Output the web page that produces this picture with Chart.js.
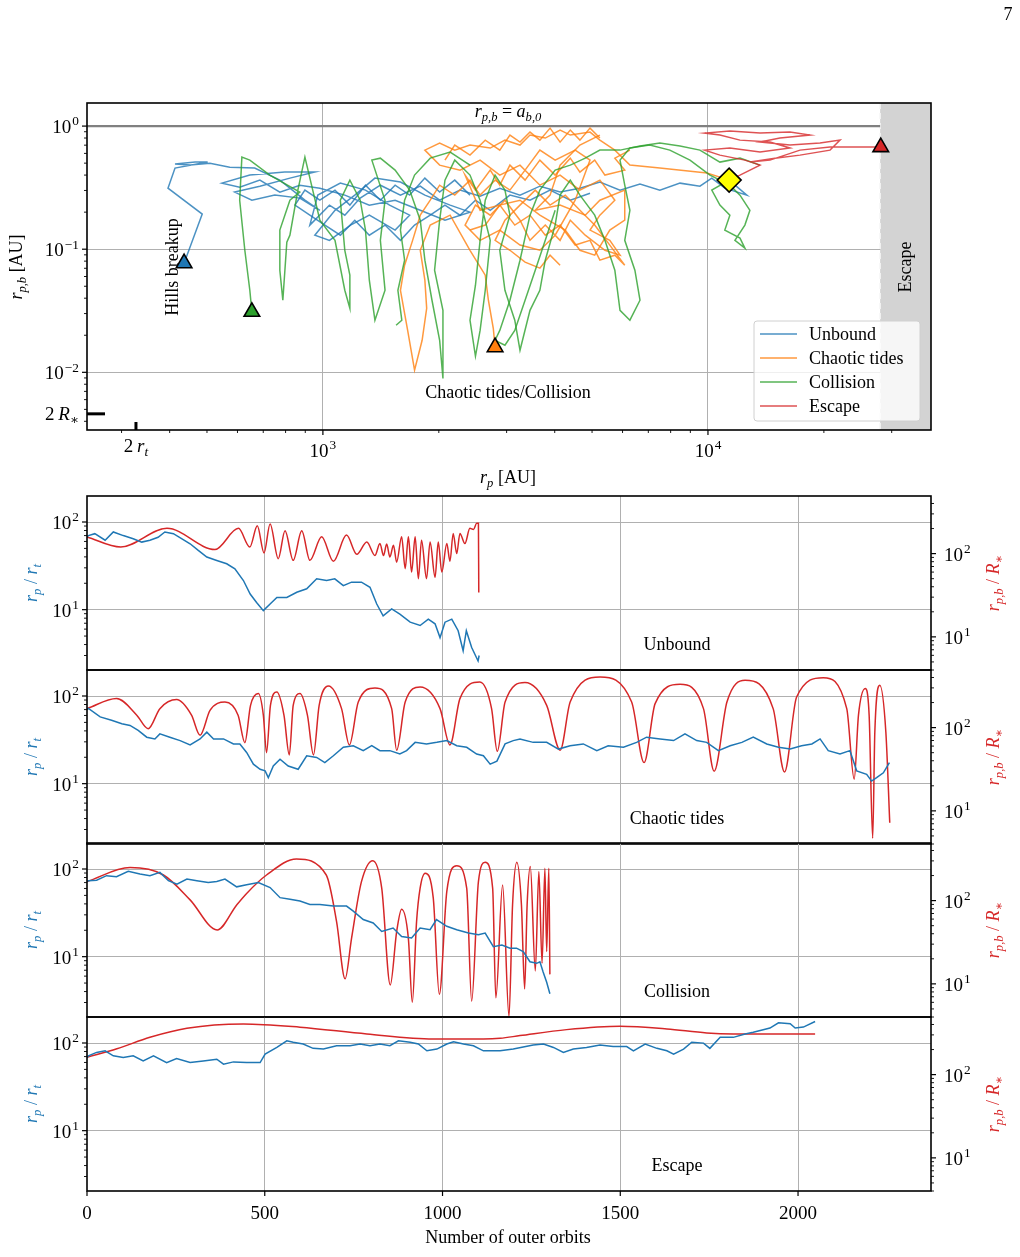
<!DOCTYPE html>
<html>
<head>
<meta charset="utf-8">
<script src="https://cdn.jsdelivr.net/npm/chart.js@4.4.0/dist/chart.umd.min.js"></script>
<style>
  body { margin: 0; background: #fff; }
  #wrap { position: relative; width: 1020px; height: 1257px; }
  canvas { position: absolute; left: 0; }
</style>
</head>
<body>
<div id="wrap">
  <canvas id="top" width="1020" height="495" style="top:0;width:1020px;height:495px"></canvas>
  <canvas id="p0" width="1020" height="190" style="top:488px;width:1020px;height:190px"></canvas>
  <canvas id="p1" width="1020" height="190" style="top:662px;width:1020px;height:190px"></canvas>
  <canvas id="p2" width="1020" height="190" style="top:835px;width:1020px;height:190px"></canvas>
  <canvas id="p3" width="1020" height="248" style="top:1009px;width:1020px;height:248px"></canvas>
</div>
<script>
// ---- top panel: r_p [AU] vs r_p,b [AU] tracks ----
const unboundX = [11350,12620,11060,10230,9530,8460,7500,6660,5910,5240,4650,4130,3660,3250,2880,2560,2270,2010,1790,1590,1410,1250,1140,1040,925,970,1110,1290,1490,1680,1540,1320,1180,1040,953,1075,1210,1365,1590,1840,2140,2410,2075,1790,1540,1320,1140,982,871,773,686,608,547,646,796,953,821,686,590,654,750,871,982,898,773,665,573,509,452,413,466,502,413,396,486,436];
const unboundY = [0.364,0.275,0.313,0.378,0.325,0.344,0.302,0.338,0.302,0.351,0.313,0.291,0.325,0.275,0.313,0.27,0.302,0.25,0.325,0.275,0.331,0.26,0.189,0.228,0.157,0.275,0.344,0.302,0.228,0.189,0.143,0.189,0.157,0.118,0.13,0.207,0.275,0.378,0.351,0.275,0.228,0.2,0.172,0.207,0.25,0.228,0.275,0.313,0.331,0.291,0.364,0.319,0.344,0.4,0.423,0.423,0.378,0.325,0.291,0.25,0.275,0.26,0.207,0.25,0.364,0.456,0.464,0.5,0.482,0.491,0.51,0.51,0.456,0.313,0.193,0.077];
const unboundX2 = [2410,2200,2010,1840,1680,1540,1410,1290,1175,1075,982,898,846,925,1012,1110,1210,1320,1450,1590,1730,1900,2075,2270,2490,2720,3060,3450,3890,4390,4940];
const unboundY2 = [0.275,0.364,0.291,0.378,0.275,0.331,0.25,0.331,0.228,0.302,0.25,0.302,0.228,0.189,0.157,0.13,0.172,0.13,0.157,0.118,0.157,0.189,0.228,0.189,0.25,0.207,0.275,0.25,0.302,0.25,0.285];

const tidesX = [11350,9940,7500,6270,5730,5240,4940,4390,4130,3780,3450,3250,2970,2720,2410,2200,2010,1840,2010,2270,2560,2880,3250,3660,4130,4650,5240,5730,5240,4940,5560,5910,5400,4800,4390,4130,3780,3450,3250,2970,2720,2490,2340,2560,2880,3250,3660,4010,4520,4940,4520,4010,3660,3350,3060,2800,2560,2410,2200,2010,1900,1790,1710,1630,1590,1660,1730,1810,1860,1840,1790,1900,2140,2410,2640,2690,2770,2800];
const tidesY = [0.364,0.415,0.456,0.482,0.638,0.769,0.894,0.845,0.928,0.799,0.845,0.701,0.769,0.663,0.701,0.638,0.728,0.638,0.482,0.439,0.529,0.4,0.482,0.331,0.4,0.302,0.364,0.25,0.189,0.143,0.118,0.0894,0.098,0.13,0.172,0.118,0.157,0.118,0.172,0.25,0.189,0.228,0.157,0.118,0.143,0.108,0.098,0.13,0.25,0.529,0.638,0.529,0.638,0.439,0.302,0.364,0.275,0.364,0.275,0.331,0.25,0.189,0.118,0.0741,0.0464,0.0219,0.0104,0.0182,0.0331,0.056,0.098,0.157,0.189,0.098,0.0615,0.0385,0.0228,0.016];
const tidesX2 = [5240,4650,4130,3890,3560,4130,4800,5240,6080,6080,5560,5080,4650,4260,3660,3250,2880,2640,2410];
const tidesY2 = [0.845,0.701,0.482,0.275,0.207,0.228,0.189,0.25,0.302,0.172,0.143,0.0894,0.098,0.143,0.189,0.25,0.228,0.157,0.143];
const tidesX3 = [6270,5730,6080,5400,5080,4650,4390,4010,3660,3350,3060,2880,2720,2490,2340,2560,2880,3150,3450,3780,4130,4520,4940,5240,5730,6080,5560,5080,4650,4260,3890,3560,3250,2970,2800,3060,3350,3660,3890,4130];
const tidesY3 = [0.638,0.549,0.439,0.4,0.529,0.423,0.549,0.4,0.529,0.364,0.482,0.331,0.439,0.302,0.4,0.207,0.228,0.157,0.189,0.13,0.157,0.108,0.118,0.0814,0.0894,0.0741,0.108,0.157,0.207,0.275,0.228,0.302,0.228,0.172,0.118,0.098,0.0784,0.0701,0.0894,0.0741];
const tidesX4 = [5240,4940,4650,4390,4130,3890,3660,3450,3250,3060,2880,2640,2410,2200,2075];
const tidesY4 = [0.799,0.963,0.769,0.928,0.741,0.963,0.769,0.894,0.741,0.845,0.638,0.769,0.581,0.701,0.529];

const collX = [11350,10230,10740,11400,11060,12110,12470,11750,12470,12850,12110,11400,10120,8980,7960,7060,6270,5910,6080,6270,6080,6460,6660,6270,5910,5730,5400,5080,4650,4390,4130,4010,3780,3660,3450,3250,3150,2970,2880,3060,2970,2800,2640,2560,2490,2410,2490,2560,2640,2720,2560,2410,2200,2075,2010,1950,2050,2050,2010,1920,1840,1790,1680,1540,1410,1340,1450,1410,1450,1365,1320,1290,1250,1175,1110,1140,1175,1175,1140,1075,982,898,861,821,806,787,773,773,821,871,728,646,616,608,627,646,654];
const collY = [0.364,0.302,0.228,0.189,0.143,0.123,0.102,0.118,0.157,0.207,0.275,0.331,0.4,0.529,0.638,0.701,0.663,0.529,0.331,0.207,0.118,0.0675,0.0385,0.0265,0.0319,0.0675,0.118,0.189,0.275,0.364,0.275,0.157,0.0814,0.0464,0.0319,0.0151,0.0265,0.0464,0.098,0.189,0.302,0.4,0.25,0.118,0.051,0.0265,0.0135,0.0219,0.0464,0.118,0.25,0.4,0.529,0.364,0.172,0.0675,0.0319,0.0089,0.0182,0.0385,0.0814,0.172,0.302,0.439,0.549,0.529,0.25,0.118,0.0464,0.0265,0.056,0.143,0.25,0.364,0.25,0.098,0.0615,0.0331,0.0464,0.118,0.172,0.56,0.302,0.13,0.114,0.0385,0.0675,0.143,0.25,0.291,0.4,0.529,0.56,0.25,0.098,0.0464,0.031];
const collX2 = [13650,12110,10740,9530,8460,7500,6660,5910,5240,4800,4390,4010,3660,3450,3250,3060,2880,2800,2970,3150,3350,3560,3780,4010];
const collY2 = [0.482,0.549,0.51,0.638,0.688,0.728,0.688,0.638,0.638,0.549,0.482,0.439,0.302,0.189,0.0814,0.0385,0.0219,0.0182,0.0166,0.0219,0.0385,0.0675,0.118,0.207];
const collX3 = [2410,2140,1900,1730,1630,1590,1630,1566,1603,1549];
const collY3 = [0.482,0.615,0.549,0.4,0.25,0.143,0.0814,0.0464,0.0265,0.0241];

const escX = [11350,12110,13650,12470,10740,9810,11400,13650,16330,14490,12110,10740,9810,11400,13650,16330,18400,15380,13650,16330,19540,22030,20750,17340,14930,12850,14490,17340,20750,24830,28100];
const escY = [0.364,0.4,0.482,0.529,0.581,0.638,0.663,0.615,0.663,0.741,0.769,0.845,0.877,0.911,0.877,0.894,0.845,0.799,0.741,0.701,0.728,0.769,0.638,0.581,0.549,0.51,0.529,0.638,0.675,0.675,0.675];

const endX = [436, 2800, 654, 28100];          // end markers: unbound, tides, collision, escape
const endY = [0.077, 0.016, 0.031, 0.675];
const startX = [11350];
const startY = [0.364];

const legendNames = ['Unbound', 'Chaotic tides', 'Collision', 'Escape'];
const escapeLimit = [28000];     // AU, start of shaded escape region
const binarySep = [1];           // r_p,b = a_b,0
const twoRt = [327];             // AU
const twoRstar = [0.0046];       // AU

// ---- lower panels: vs number of outer orbits ----
const unbOrbits = [0,4,22,51,74,102,130,154,177,200,219,243,266,290,313,337,365,393,416,440,459,477,496,515,534,562,590,618,646,674,697,721,744,772,796,815,833,857,880,909,937,960,979,993,1007,1026,1044,1058,1067,1082,1100,1103];
const unbRp = [68,70,73.6,62,77,70,64.5,59,62,67,77,73.5,64.5,56.5,47.4,39.8,36.4,33.4,29.2,21.5,15.1,12.1,9.75,11.6,13.8,13.8,15.8,17.3,22.5,21.5,22.5,18.8,20.6,20.6,18,11.6,8.5,10.2,8.9,7.2,6.6,7.8,6.9,4.8,7.2,7.8,5.75,3.4,5.75,3.7,2.6,3.0];
const unbOrbitsB = [0,95,225,360,426,458,479,498,515,538,557,580,604,627,660,693,730,759,787,810,824,834,843,852,862,871,885,895,904,913,923,932,941,955,965,979,988,998,1012,1021,1030,1040,1049,1063,1077,1087,1096,1101,1102];
const unbRpb = [159,120,201,112,201,120,216,102,227,87,188,83,188,83,159,81,167,98,138,95,132,95,130,91,126,79,159,66,159,60,159,50,145,50,138,52,138,60,132,81,175,100,175,132,201,195,231,231,34];

const chtOrbits = [0,4,37,69,98,121,144,168,191,205,233,262,290,318,337,356,384,412,430,449,468,487,501,510,524,543,566,594,618,646,669,693,721,749,777,801,824,852,880,899,923,955,984,1012,1040,1068,1096,1115,1134,1153,1176,1199,1218,1255,1293,1326,1359,1396,1434,1466,1509,1546,1574,1612,1650,1682,1715,1743,1776,1809,1842,1874,1912,1945,1978,2010,2039,2062,2085,2118,2146,2165,2193,2207,2221,2240,2257];
const chtRp = [70,72,57.7,52.8,48.3,46.2,40.5,33.9,32.4,37,33.9,31,27.7,32.4,38.7,32.4,32.4,28.4,28.4,22.7,16.7,14.6,14,11.7,15.9,19,15.9,14.6,20.8,19.9,17.4,20.8,26,27.1,23.8,27.1,23.8,23.8,21.8,23.8,29.6,28.4,29.6,31,27.1,26,21.8,20.8,16.7,18.1,28.4,31,32.4,29.6,29.6,24.8,27.1,28.4,23.8,27.1,26,29.6,33.9,32.4,31,37,31,29.6,23.8,27.1,29.6,33.9,28.4,26,24.8,27.1,28.4,32.4,23.8,21.8,23.8,14,12.8,10.7,11.7,13.3,17.4];
const chtOrbitsB = [0,83,140,172,205,252,294,318,346,388,425,444,460,482,496,505,516,534,554,569,580,599,620,637,653,679,716,738,763,810,857,871,895,937,993,1021,1049,1105,1138,1154,1176,1232,1293,1331,1359,1443,1532,1567,1598,1668,1734,1764,1800,1851,1930,1962,1996,2071,2137,2158,2170,2189,2200,2210,2216,2230,2247,2258];
const chtRpb = [169,223,141,97,169,217,141,81,161,203,141,66,185,256,141,50,185,267,141,47,185,256,141,47,185,316,169,62,203,299,169,53.5,203,307,169,62,223,352,169,51.9,203,347,185,53.5,203,405,203,38,194,331,169,29.9,203,370,169,29.3,233,398,169,24,141,294,141,4.7,88.6,322,88.6,7.2];

const colOrbits = [0,4,27,55,83,116,149,177,205,229,253,281,309,341,365,388,421,449,482,515,543,571,599,627,655,693,730,749,777,805,829,861,885,913,937,965,983,1012,1040,1073,1101,1120,1143,1167,1190,1208,1227,1246,1265,1274,1283,1293,1302];
const colRp = [72,73.5,74.6,84,81.7,94,87.5,84,91.6,73.5,67.1,76.7,73.5,70.2,72,76.7,62.6,66.1,70.2,61.5,47.1,45.1,43.1,39.4,39.4,37.8,37.8,33.1,26.5,24.2,19.4,21.2,17,16.3,21.2,20.3,26.5,22.2,20.3,18.6,17.8,18.6,13,13.6,12.5,12.5,11.4,8.75,8.4,8.75,6.7,5.1,3.77];
const colOrbitsB = [0,121,215,290,366,421,449,505,589,673,702,726,744,772,804,829,853,871,885,904,915,927,937,951,974,991,1012,1040,1068,1082,1101,1120,1141,1150,1169,1187,1197,1209,1222,1231,1238,1247,1261,1271,1280,1288,1293,1299,1302];
const colRpb = [169,249,203,102,44.4,88.6,122,203,316,203,56,11.5,35,169,302,141,9.7,42.5,79,35,6,56,141,213,107,7.5,128,263,141,6.2,169,288,141,6.8,154,4.05,88.6,288,88.6,8.7,88.6,256,14.3,223,17.7,244,24.4,244,13];

const escOrbits = [0,4,27,51,74,102,130,158,187,224,252,290,327,365,384,412,449,487,501,534,562,580,608,636,665,702,740,768,796,824,852,876,909,932,956,984,1012,1031,1059,1087,1115,1143,1162,1199,1255,1284,1312,1340,1368,1405,1443,1480,1518,1537,1570,1603,1631,1650,1678,1701,1734,1752,1781,1818,1851,1874,1902,1921,1945,1978,1992,2015,2048];
const escRp = [68,71.4,78.1,81.5,71.4,68.4,71.4,62.5,71.4,59.8,66.6,59.8,62.5,65.3,57.3,60.9,59.8,59.8,74.6,89.2,106,102,97.4,86.9,85.3,93.1,93.1,97.4,93.1,97.4,93.1,106,102,97.4,81.5,85.3,97.4,103.5,97.4,93.1,81.5,81.5,81.5,85.3,95,97.4,89,78.1,85.3,89,95,91,91,81.5,97.4,86.9,81.5,74.6,85.3,102,99.7,86.9,116,116,127,133,142,148,170,166,148,152,176];
const escOrbitsB = [0,84,177,281,440,599,787,974,1115,1162,1218,1349,1499,1631,1743,1818,1912,2048];
const escRpb = [162,204,281,361,406,371,308,268,268,273,294,347,381,354,316,308,308,308];

const orbitTicks = [0, 500, 1000, 1500, 2000];

// ---- helpers ----
const SERIF = '"Liberation Serif","DejaVu Serif",serif';
const BLUE = '#1f77b4', ORANGE = '#ff7f0e', GREEN = '#2ca02c', RED = '#d62728';
const GRID = '#b0b0b0';
const legendColors = [BLUE, ORANGE, GREEN, RED];

function alpha(hex, a) {
  const n = parseInt(hex.slice(1), 16);
  return `rgba(${n >> 16},${(n >> 8) & 255},${n & 255},${a})`;
}
const pts = (xs, ys) => xs.map((x, i) => ({ x, y: ys[i] }));

function seg(ctx, x1, y1, x2, y2) {
  ctx.beginPath(); ctx.moveTo(x1, y1); ctx.lineTo(x2, y2); ctx.stroke();
}

// text with italic / subscript / superscript pieces
function rich(ctx, segs, x, y, size, align, color) {
  ctx.fillStyle = color || '#000';
  ctx.textAlign = 'left';
  ctx.textBaseline = 'alphabetic';
  const parts = segs.map(([t, m]) => {
    const small = m === 'si' || m === 'sr' || m === 'p';
    const s = small ? size * 0.7 : size;
    const font = (m === 'i' || m === 'si' ? 'italic ' : '') + s.toFixed(1) + 'px ' + SERIF;
    ctx.font = font;
    return { t, m, font, w: ctx.measureText(t).width + (m === 'p' ? 1 : 0) };
  });
  const total = parts.reduce((s, p) => s + p.w, 0);
  let cx = align === 'center' ? x - total / 2 : align === 'right' ? x - total : x;
  parts.forEach(p => {
    let dy = 0;
    if (p.m === 'si' || p.m === 'sr') dy = size * 0.22;
    if (p.m === 'p') dy = -size * 0.4;
    ctx.font = p.font;
    ctx.fillText(p.t, cx + (p.m === 'p' ? 1 : 0), y + dy);
    cx += p.w;
  });
}
function richV(ctx, segs, x, y, size, color) {
  ctx.save();
  ctx.translate(x, y);
  ctx.rotate(-Math.PI / 2);
  rich(ctx, segs, 0, size * 0.35, size, 'center', color);
  ctx.restore();
}
function pow10(v) {
  const e = Math.round(Math.log10(v));
  return [['10', 'r'], [String(e).replace('-', '\u2212'), 'p']];
}
function logSteps(lo, hi) {
  const out = [];
  for (let e = Math.floor(Math.log10(lo)); e <= Math.ceil(Math.log10(hi)); e++) {
    for (let m = 1; m < 10; m++) {
      const v = m * Math.pow(10, e);
      if (v >= lo && v <= hi) out.push({ v, major: m === 1 });
    }
  }
  return out;
}

Chart.defaults.animation = false;
Chart.defaults.events = [];
Chart.defaults.plugins.legend.display = false;
Chart.defaults.plugins.tooltip.enabled = false;

// ---- top chart ----
const topDecor = {
  id: 'topDecor',
  beforeDatasetsDraw(chart) {
    const { ctx, chartArea: a, scales: { x, y } } = chart;
    const xe = x.getPixelForValue(escapeLimit[0]);
    ctx.save();
    ctx.fillStyle = '#d3d3d3';
    ctx.fillRect(xe, a.top, a.right - xe, a.bottom - a.top);
    ctx.strokeStyle = '#f4f4f4';
    ctx.lineWidth = 1.5;
    ctx.setLineDash([6, 4]);
    seg(ctx, xe, a.top, xe, a.bottom);
    ctx.setLineDash([]);
    ctx.strokeStyle = '#808080';
    ctx.lineWidth = 2.2;
    const y1 = y.getPixelForValue(binarySep[0]);
    seg(ctx, a.left, y1, xe, y1);
    ctx.restore();
  },
  afterDraw(chart) {
    const { ctx, chartArea: a, scales: { x, y } } = chart;
    ctx.save();
    ctx.strokeStyle = '#000';
    logSteps(x.min, x.max).forEach(t => {
      const p = x.getPixelForValue(t.v);
      ctx.lineWidth = t.major ? 1.2 : 0.9;
      seg(ctx, p, a.bottom, p, a.bottom + (t.major ? 5 : 3));
      if (t.major) rich(ctx, pow10(t.v), p, a.bottom + 27, 19, 'center');
    });
    logSteps(y.min, y.max).forEach(t => {
      const p = y.getPixelForValue(t.v);
      ctx.lineWidth = t.major ? 1.2 : 0.9;
      seg(ctx, a.left, p, a.left - (t.major ? 5 : 3), p);
      if (t.major) rich(ctx, pow10(t.v), a.left - 8, p + 7, 19, 'right');
    });
    // special markers 2 r_t and 2 R_*
    ctx.lineWidth = 3;
    const pr = x.getPixelForValue(twoRt[0]);
    seg(ctx, pr, a.bottom, pr, a.bottom - 8);
    const ps = y.getPixelForValue(twoRstar[0]);
    seg(ctx, a.left, ps, a.left + 18, ps);
    rich(ctx, [['2\u2009', 'r'], ['r', 'i'], ['t', 'si']], pr, a.bottom + 22, 19, 'center');
    rich(ctx, [['2\u2009', 'r'], ['R', 'i'], ['\u2217', 'sr']], a.left - 8, ps + 6, 19, 'right');
    // frame
    ctx.lineWidth = 1.6;
    ctx.strokeRect(a.left, a.top, a.right - a.left, a.bottom - a.top);
    // texts
    const y1 = y.getPixelForValue(binarySep[0]);
    rich(ctx, [['r', 'i'], ['p,b', 'si'], [' = ', 'r'], ['a', 'i'], ['b,0', 'si']], 508, y1 - 9, 18, 'center');
    richV(ctx, [['Hills breakup', 'r']], 172, 267, 18);
    richV(ctx, [['Escape', 'r']], 905, 267, 18);
    rich(ctx, [['Chaotic tides/Collision', 'r']], 508, 398, 18, 'center');
    richV(ctx, [['r', 'i'], ['p,b', 'si'], [' [AU]', 'r']], 16, 267, 18);
    rich(ctx, [['r', 'i'], ['p', 'si'], [' [AU]', 'r']], 508, 483, 18, 'center');
    // legend
    const lx = a.right - 177, ly = a.bottom - 109;
    ctx.fillStyle = 'rgba(255,255,255,0.8)';
    ctx.strokeStyle = '#d0d0d0';
    ctx.lineWidth = 1;
    ctx.beginPath();
    ctx.roundRect(lx, ly, 166, 100, 3);
    ctx.fill();
    ctx.stroke();
    legendNames.forEach((n, i) => {
      const yy = ly + 13 + i * 24;
      ctx.strokeStyle = alpha(legendColors[i], 0.8);
      ctx.lineWidth = 1.6;
      seg(ctx, lx + 6, yy, lx + 43, yy);
      rich(ctx, [[n, 'r']], lx + 55, yy + 6, 18, 'left');
    });
    // page number
    rich(ctx, [['7', 'r']], 1008, 20, 18, 'center');
    ctx.restore();
  }
};

function track(xs, ys, color, order) {
  return { data: pts(xs, ys), showLine: true, borderColor: alpha(color, 0.8), borderWidth: 1.5, pointRadius: 0, order };
}

new Chart(document.getElementById('top'), {
  type: 'scatter',
  data: {
    datasets: [
      track(unboundX, unboundY, BLUE, 5),
      track(unboundX2, unboundY2, BLUE, 5),
      track(tidesX, tidesY, ORANGE, 4),
      track(tidesX2, tidesY2, ORANGE, 4),
      track(tidesX3, tidesY3, ORANGE, 4),
      track(tidesX4, tidesY4, ORANGE, 4),
      track(collX, collY, GREEN, 3),
      track(collX2, collY2, GREEN, 3),
      track(collX3, collY3, GREEN, 3),
      track(escX, escY, RED, 2),
      {
        data: pts(endX, endY), pointStyle: 'triangle', pointRadius: 9,
        backgroundColor: legendColors, borderColor: '#000', borderWidth: 1.6, order: 1
      },
      {
        data: pts(startX, startY), pointStyle: 'rectRot', pointRadius: 12,
        backgroundColor: '#ffff00', borderColor: '#000', borderWidth: 1.6, order: 0
      }
    ]
  },
  options: {
    responsive: false,
    layout: { padding: { top: 103, right: 89, left: 0, bottom: 0 } },
    scales: {
      x: {
        type: 'logarithmic', min: 244, max: 37950,
        afterBuildTicks: s => { s.ticks = [{ value: 1000 }, { value: 10000 }]; },
        afterFit: s => { s.height = 65; },
        ticks: { display: false },
        grid: { color: GRID, lineWidth: 1, drawTicks: false },
        border: { display: false }
      },
      y: {
        type: 'logarithmic', min: 0.0034, max: 1.54,
        afterBuildTicks: s => { s.ticks = [{ value: 0.01 }, { value: 0.1 }, { value: 1 }]; },
        afterFit: s => { s.width = 87; },
        ticks: { display: false },
        grid: { color: GRID, lineWidth: 1, drawTicks: false },
        border: { display: false }
      }
    }
  },
  plugins: [topDecor]
});

// ---- lower panels ----
function panelDecor(label, isLast) {
  return {
    id: 'panelDecor',
    afterDraw(chart) {
      const { ctx, chartArea: a, scales: { x, yL, yR } } = chart;
      ctx.save();
      ctx.strokeStyle = '#000';
      logSteps(yL.min, yL.max).forEach(t => {
        const p = yL.getPixelForValue(t.v);
        ctx.lineWidth = t.major ? 1.2 : 0.9;
        seg(ctx, a.left, p, a.left - (t.major ? 5 : 3), p);
        if (t.major) rich(ctx, pow10(t.v), a.left - 8, p + 7, 19, 'right');
      });
      logSteps(yR.min, yR.max).forEach(t => {
        const p = yR.getPixelForValue(t.v);
        ctx.lineWidth = t.major ? 1.2 : 0.9;
        seg(ctx, a.right, p, a.right + (t.major ? 5 : 3), p);
        if (t.major) rich(ctx, pow10(t.v), a.right + 13, p + 7, 19, 'left');
      });
      const mid = (a.top + a.bottom) / 2;
      richV(ctx, [['r', 'i'], ['p', 'si'], [' / ', 'r'], ['r', 'i'], ['t', 'si']], 31, mid, 18, BLUE);
      richV(ctx, [['r', 'i'], ['p,b', 'si'], [' / ', 'r'], ['R', 'i'], ['\u2217', 'sr']], 993, mid, 18, RED);
      rich(ctx, [[label, 'r']], 677, a.bottom - 20, 18, 'center');
      if (isLast) {
        orbitTicks.forEach(v => {
          const p = x.getPixelForValue(v);
          ctx.lineWidth = 1.2;
          seg(ctx, p, a.bottom, p, a.bottom + 5);
          rich(ctx, [[String(v), 'r']], p, a.bottom + 28, 19, 'center');
        });
        rich(ctx, [['Number of outer orbits', 'r']], 508, a.bottom + 52, 18, 'center');
      }
      ctx.lineWidth = 1.6;
      ctx.strokeRect(a.left, a.top, a.right - a.left, a.bottom - a.top);
      ctx.restore();
    }
  };
}

function makePanel(id, orb, rp, orbB, rpb, label, isLast) {
  const canvas = document.getElementById(id);
  new Chart(canvas, {
    type: 'line',
    data: {
      datasets: [
        {
          data: pts(orbB, rpb), yAxisID: 'yR', borderColor: RED, borderWidth: 1.5,
          pointRadius: 0, cubicInterpolationMode: 'monotone', order: 2
        },
        {
          data: pts(orb, rp), yAxisID: 'yL', borderColor: BLUE, borderWidth: 1.5,
          pointRadius: 0, tension: 0, order: 1
        }
      ]
    },
    options: {
      responsive: false,
      layout: { padding: { top: 8, left: 0, right: 0, bottom: 0 } },
      scales: {
        x: {
          type: 'linear', min: 0, max: 2374,
          afterBuildTicks: s => { s.ticks = orbitTicks.slice(1).map(v => ({ value: v })); },
          afterFit: s => { s.height = canvas.height - 8 - 174; },
          ticks: { display: false },
          grid: { color: GRID, lineWidth: 1, drawTicks: false },
          border: { display: false }
        },
        yL: {
          type: 'logarithmic', position: 'left', min: 2.05, max: 198,
          afterBuildTicks: s => { s.ticks = [{ value: 10 }, { value: 100 }]; },
          afterFit: s => { s.width = 87; },
          ticks: { display: false },
          grid: { color: GRID, lineWidth: 1, drawTicks: false },
          border: { display: false }
        },
        yR: {
          type: 'logarithmic', position: 'right', min: 4.0, max: 492,
          afterBuildTicks: s => { s.ticks = [{ value: 10 }, { value: 100 }]; },
          afterFit: s => { s.width = 89; },
          ticks: { display: false },
          grid: { display: false, drawTicks: false },
          border: { display: false }
        }
      }
    },
    plugins: [panelDecor(label, isLast)]
  });
}

makePanel('p0', unbOrbits, unbRp, unbOrbitsB, unbRpb, 'Unbound', false);
makePanel('p1', chtOrbits, chtRp, chtOrbitsB, chtRpb, 'Chaotic tides', false);
makePanel('p2', colOrbits, colRp, colOrbitsB, colRpb, 'Collision', false);
makePanel('p3', escOrbits, escRp, escOrbitsB, escRpb, 'Escape', true);
</script>
</body>
</html>
